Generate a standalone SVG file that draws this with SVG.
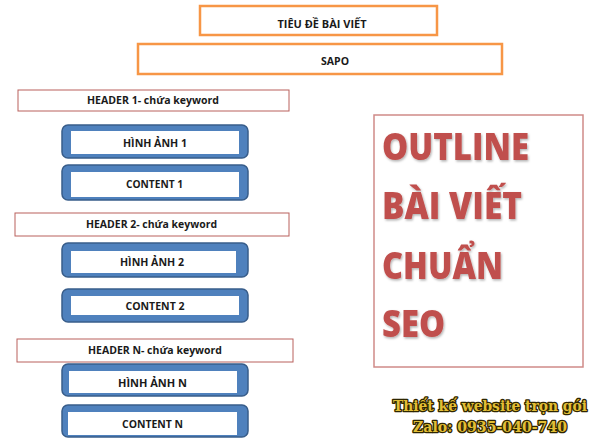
<svg xmlns="http://www.w3.org/2000/svg" width="600" height="446" viewBox="0 0 600 446">
<style>
.orange{fill:#fff;stroke:#f79646;stroke-width:2.5}
.hdr{fill:#fff;stroke:#b9605c;stroke-width:1}
.blue{fill:#4f81bd;stroke:#385d8a;stroke-width:1.5}
.inner{fill:#fff}
.lbl{font-family:"Open Sans","Liberation Sans",sans-serif;font-weight:bold;font-size:11px;fill:#1a1a1a;text-anchor:middle}
.big{font-family:"Open Sans","Noto Sans",sans-serif;font-weight:800;font-size:37px;fill:#c0504d}
.ad{font-family:"DejaVu Serif",serif;font-weight:bold;font-size:14px;fill:#e2be35;stroke:#2e2600;stroke-width:2.6;paint-order:stroke;stroke-linejoin:round;text-anchor:end}
</style>
<defs>
<filter id="sh" x="-10%" y="-10%" width="130%" height="140%">
<feDropShadow dx="1" dy="1.5" stdDeviation="1" flood-color="#000" flood-opacity="0.3"/>
</filter>
</defs>
<rect width="600" height="446" fill="#fff"/>
<g id="connectors"></g>
<g id="title"><rect class="orange" x="200" y="6" width="237" height="29"/><text class="lbl" x="322" y="28" textLength="89" lengthAdjust="spacingAndGlyphs">TIÊU ĐỀ BÀI VIẾT</text></g>
<g id="sapo"><rect class="orange" x="138" y="44" width="364" height="30"/><text class="lbl" x="335" y="65" textLength="28" lengthAdjust="spacingAndGlyphs">SAPO</text></g>

<g id="header1"><rect class="hdr" x="18" y="90" width="271" height="21"/><text class="lbl" x="153" y="104" textLength="132" lengthAdjust="spacingAndGlyphs">HEADER 1- chứa keyword</text></g>
<g id="hinh1"><rect class="blue" x="62" y="125" width="186" height="33" rx="6"/><rect class="inner" x="71" y="131" width="168" height="23"/><text class="lbl" x="155" y="147" textLength="64" lengthAdjust="spacingAndGlyphs">HÌNH ẢNH 1</text></g>
<g id="content1"><rect class="blue" x="62" y="165" width="186" height="35" rx="6"/><rect class="inner" x="71" y="172" width="168" height="25"/><text class="lbl" x="154.5" y="188" textLength="57" lengthAdjust="spacingAndGlyphs">CONTENT 1</text></g>

<g id="header2"><rect class="hdr" x="15" y="213" width="274" height="23"/><text class="lbl" x="151.5" y="228" textLength="131" lengthAdjust="spacingAndGlyphs">HEADER 2- chứa keyword</text></g>
<g id="hinh2"><rect class="blue" x="62" y="243" width="186" height="34" rx="6"/><rect class="inner" x="71" y="251" width="165" height="22"/><text class="lbl" x="152" y="266" textLength="64" lengthAdjust="spacingAndGlyphs">HÌNH ẢNH 2</text></g>
<g id="content2"><rect class="blue" x="62" y="289" width="186" height="33" rx="6"/><rect class="inner" x="71" y="296" width="168" height="19"/><text class="lbl" x="155" y="310" textLength="59" lengthAdjust="spacingAndGlyphs">CONTENT 2</text></g>

<g id="headerN"><rect class="hdr" x="17" y="339" width="276" height="23"/><text class="lbl" x="155" y="354" textLength="134" lengthAdjust="spacingAndGlyphs">HEADER N- chứa keyword</text></g>
<g id="hinhN"><rect class="blue" x="62" y="364" width="186" height="32" rx="6"/><rect class="inner" x="69" y="371" width="168" height="22"/><text class="lbl" x="152.5" y="387" textLength="69" lengthAdjust="spacingAndGlyphs">HÌNH ẢNH N</text></g>
<g id="contentN"><rect class="blue" x="62" y="405" width="186" height="32" rx="6"/><rect class="inner" x="68" y="412" width="169" height="23"/><text class="lbl" x="152.5" y="428" textLength="61" lengthAdjust="spacingAndGlyphs">CONTENT N</text></g>

<g id="outline">
<rect x="374" y="115" width="209" height="252" fill="#fff" stroke="#cf8a88" stroke-width="1.5"/>
<g filter="url(#sh)">
<text class="big" x="382" y="160" textLength="147" lengthAdjust="spacingAndGlyphs">OUTLINE</text>
<text class="big" x="382" y="219" textLength="140" lengthAdjust="spacingAndGlyphs">BÀI VIẾT</text>
<text class="big" x="382" y="279" textLength="121" lengthAdjust="spacingAndGlyphs">CHUẨN</text>
<text class="big" x="382" y="337" textLength="63" lengthAdjust="spacingAndGlyphs">SEO</text>
</g>
</g>
<g id="ad">
<text class="ad" x="587" y="411" textLength="194" lengthAdjust="spacingAndGlyphs">Thiết kế website trọn gói</text>
<text class="ad" x="567" y="432" textLength="154" lengthAdjust="spacingAndGlyphs">Zalo: 0935-040-740</text>
</g>
</svg>
